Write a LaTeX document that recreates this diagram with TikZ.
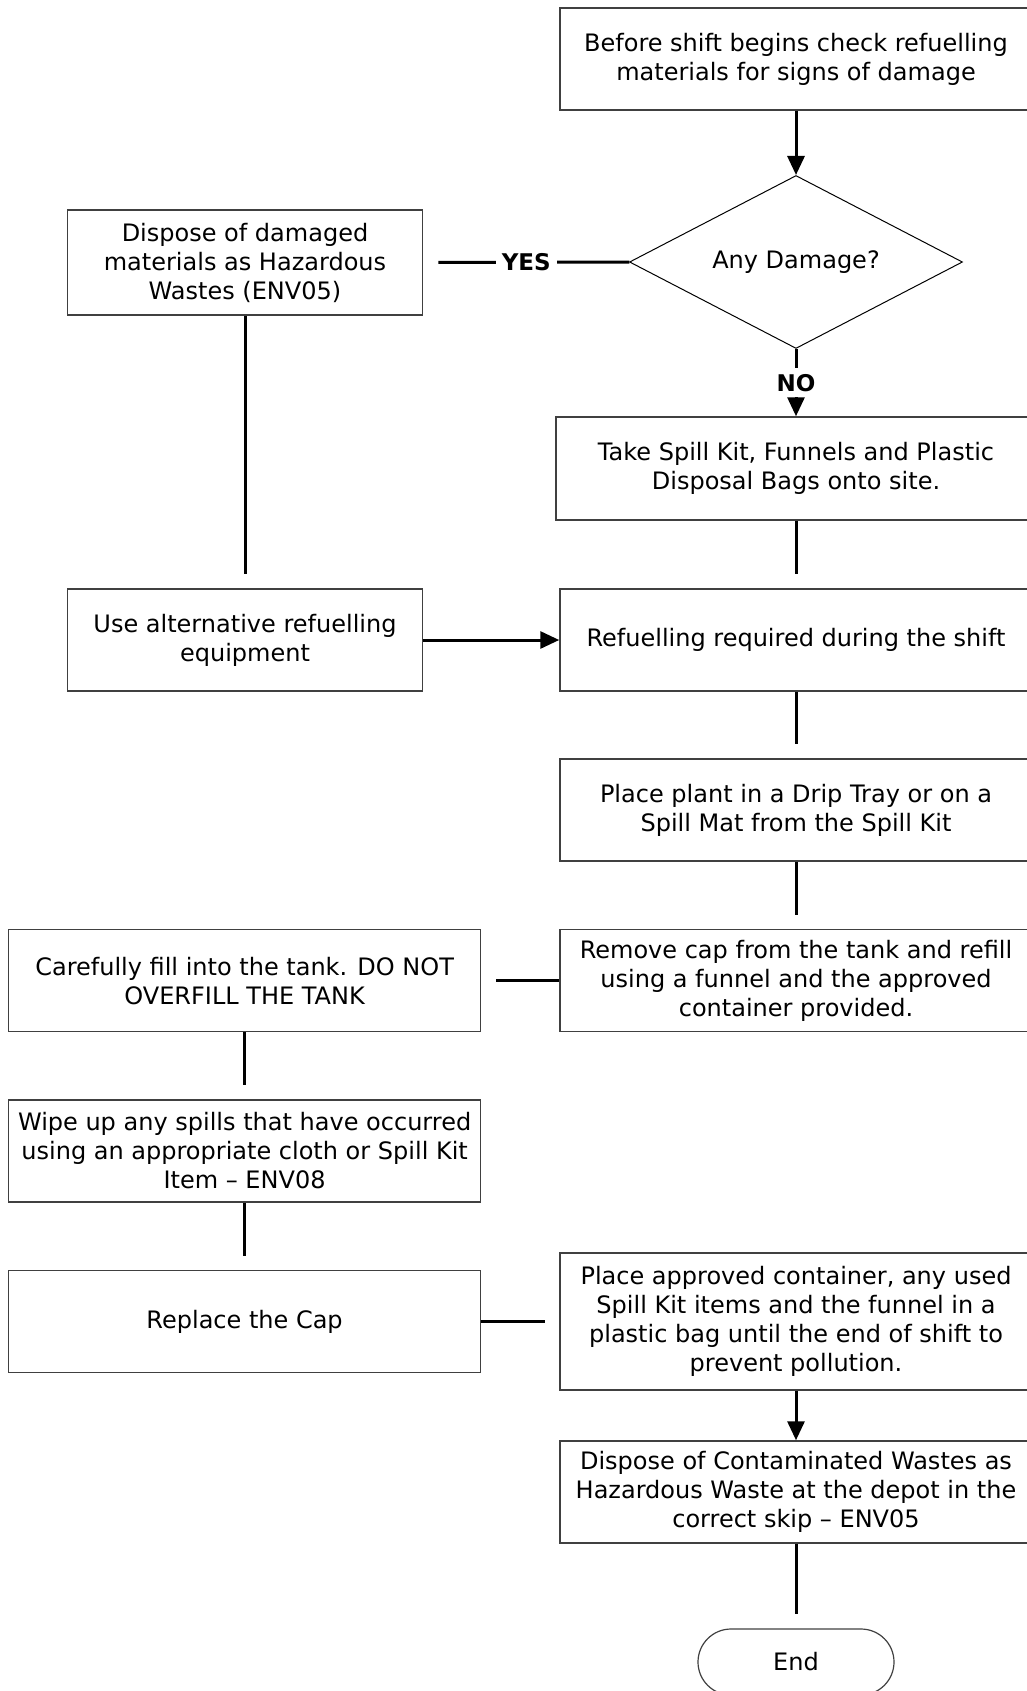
\documentclass[tikz,border=0pt]{standalone}
\usepackage{fontspec}
\setmainfont{DejaVu Sans}
\usepackage{tikz}
\usetikzlibrary{shapes.geometric}
\usetikzlibrary{arrows.meta}

\begin{document}
\begin{tikzpicture}[x=0.5pt, y=-0.5pt,
        procbox/.style={rectangle, draw=boxline, line width=0.75pt, align=center, inner sep=0pt,
            minimum width=236pt, minimum height=51pt, font=\fontsize{12pt}{14.5pt}\selectfont},
        decision/.style={diamond, draw=black, line width=0.5pt, inner sep=0pt, shape aspect=1.92,
            minimum width=166.5pt, minimum height=86.5pt, font=\fontsize{12pt}{14.5pt}\selectfont},
        terminal/.style={rectangle, rounded corners=16.5pt, draw=boxline, line width=0.6pt, inner sep=0pt,
            minimum width=98pt, minimum height=33pt, font=\fontsize{12pt}{14.5pt}\selectfont},
        answer/.style={fill=white, inner sep=3pt, font=\fontsize{11.5pt}{14pt}\selectfont\bfseries},
        flowline/.style={line width=1.5pt, shorten >=7pt},
        flowarrow/.style={line width=1.5pt, -{Triangle[length=9.5pt,width=8.5pt]}}]
        % Define the colors
        \definecolor{boxline}{HTML}{404040}

        \useasboundingbox (0,0) rectangle (1027,1691);

        % Draw the right column boxes
        \node[procbox] (CheckMat) at (796,59) {Before shift begins check refuelling\\materials for signs of damage};
        \node[decision] (AnyDamage) at (796,262) {Any Damage?};
        \node[procbox, minimum width=240pt, minimum height=51.5pt] (TakeKit) at (796,468.5) {Take Spill Kit, Funnels and Plastic\\Disposal Bags onto site.};
        \node[procbox] (RefuelReq) at (796,640) {Refuelling required during the shift};
        \node[procbox] (PlaceTray) at (796,810) {Place plant in a Drip Tray or on a\\Spill Mat from the Spill Kit};
        \node[procbox] (RemoveCap) at (796,980.6) {Remove cap from the tank and refill\\using a funnel and the approved\\container provided.};
        \node[procbox, minimum height=68.5pt] (BagItems) at (796,1321.5) {Place approved container, any used\\Spill Kit items and the funnel in a\\plastic bag until the end of shift to\\prevent pollution.};
        \node[procbox] (DisposeWaste) at (796,1492) {Dispose of Contaminated Wastes as\\Hazardous Waste at the depot in the\\correct skip -- ENV05};
        \node[terminal] (End) at (796,1662) {End};

        % Draw the left column boxes
        \node[procbox, minimum width=177.5pt, minimum height=52.5pt] (DisposeDmg) at (245,262.5) {Dispose of damaged\\materials as Hazardous\\Wastes (ENV05)};
        \node[procbox, minimum width=177.5pt] (AltEquip) at (245,640) {Use alternative refuelling\\equipment};
        \node[procbox] (FillTank) at (244.6,980.6) {Carefully fill into the tank. DO NOT\\OVERFILL THE TANK};
        \node[procbox] (WipeSpill) at (244.6,1151) {Wipe up any spills that have occurred\\using an appropriate cloth or Spill Kit\\Item -- ENV08};
        \node[procbox] (ReplaceCap) at (244.6,1321.5) {Replace the Cap};

        % Draw the arrows around the decision
        \draw[flowarrow] (CheckMat) -- (AnyDamage);
        \draw[flowline, shorten >=7.5pt] (AnyDamage) -- node[answer] {YES} (DisposeDmg);
        \draw[flowarrow] (AnyDamage) -- node[answer] {NO} (TakeKit);

        % Draw the lines down to the refuelling step
        \draw[flowline] (DisposeDmg) -- (AltEquip);
        \draw[flowline] (TakeKit) -- (RefuelReq);
        \draw[flowarrow] (AltEquip) -- (RefuelReq);
        \draw[flowline] (RefuelReq) -- (PlaceTray);
        \draw[flowline] (PlaceTray) -- (RemoveCap);

        % Draw the lines through the left column and back
        \draw[flowline, shorten >=7.5pt] (RemoveCap) -- (FillTank);
        \draw[flowline] (FillTank) -- (WipeSpill);
        \draw[flowline] (WipeSpill) -- (ReplaceCap);
        \draw[flowline] (ReplaceCap) -- (BagItems);
        \draw[flowarrow] (BagItems) -- (DisposeWaste);
        \draw[flowline] (DisposeWaste) -- (End);
\end{tikzpicture}
\end{document}
